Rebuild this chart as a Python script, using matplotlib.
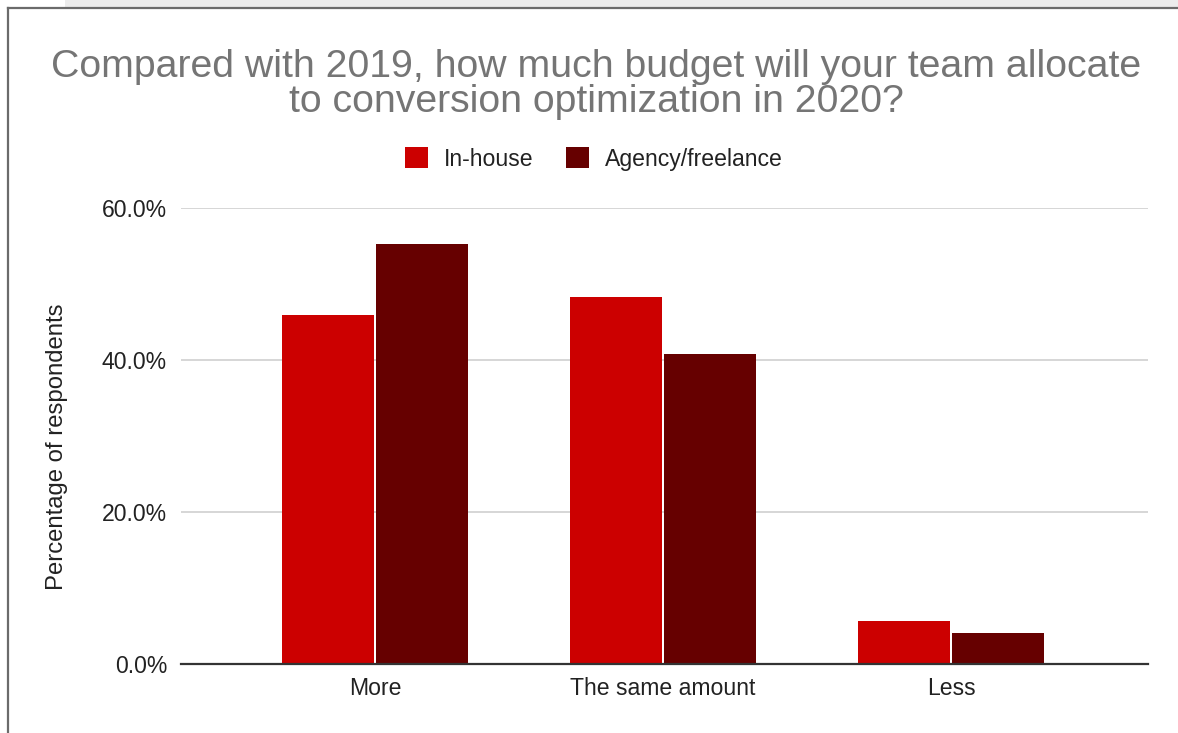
import matplotlib.pyplot as plt
import numpy as np
from matplotlib.patches import Patch, Rectangle
from matplotlib.lines import Line2D

plt.rcParams['font.family'] = ['Liberation Sans', 'DejaVu Sans']

categories = ['More', 'The same amount', 'Less']
in_house = [45.9, 48.3, 5.6]
agency = [55.3, 40.8, 4.1]
series_names = ['In-house', 'Agency/freelance']
colors = ['#cc0000', '#660000']

W, H = 1178, 733
fig = plt.figure(figsize=(W / 100, H / 100), dpi=100)

# screenshot frame
fig.patches.append(Rectangle((65 / W, 1 - 7 / H), 1, 7 / H, transform=fig.transFigure,
                             facecolor='#ececec', edgecolor='none'))
fig.lines.append(Line2D([8 / W, 1], [1 - 8 / H, 1 - 8 / H], transform=fig.transFigure,
                        color='#6b6b6b', lw=1.6))
fig.lines.append(Line2D([8 / W, 8 / W], [0, 1 - 8 / H], transform=fig.transFigure,
                        color='#6b6b6b', lw=1.6))

ax = fig.add_axes([181 / W, 1 - 664 / H, (1148 - 181) / W, (664 - 208) / H])
x = np.arange(len(categories))
bw = 0.318
gap = 0.004
ax.bar(x - bw / 2 - gap, in_house, bw, color=colors[0], zorder=3)
ax.bar(x + bw / 2 + gap, agency, bw, color=colors[1], zorder=3)

ax.set_xlim(-0.674, 2.684)
ax.set_ylim(0, 60)
ax.set_yticks([0, 20, 40, 60])
ax.set_yticklabels(['0.0%', '20.0%', '40.0%', '60.0%'])
ax.set_xticks(x)
ax.set_xticklabels(categories)
ax.tick_params(axis='both', length=0, labelsize=16.6, labelcolor='#222222')
ax.tick_params(axis='y', pad=10)
ax.tick_params(axis='x', pad=9.5)
ax.grid(axis='y', color='#cccccc', lw=1.1, zorder=0)
for s in ['top', 'right', 'left']:
    ax.spines[s].set_visible(False)
ax.spines['bottom'].set_color('#333333')
ax.spines['bottom'].set_linewidth(1.6)
ax.spines['bottom'].set_zorder(4)

fig.text(57 / W, 1 - 447 / H, 'Percentage of respondents', rotation=90,
         ha='center', va='center', fontsize=17.2, color='#222222')

fig.text(596 / W, 1 - 112 / H,
         'Compared with 2019, how much budget will your team allocate\nto conversion optimization in 2020?',
         ha='center', va='baseline', fontsize=28.3, color='#757575', linespacing=0.98)

handles = [Patch(facecolor=c, edgecolor='none') for c in colors]
fig.legend(handles, series_names, loc='center', bbox_to_anchor=(594 / W, 1 - 159 / H),
           ncol=2, frameon=False, fontsize=16.6, labelcolor='#222222',
           handlelength=1.0, handleheight=1.0, handletextpad=0.7, columnspacing=1.4)

fig.savefig('out.png', dpi=100, facecolor='white')
